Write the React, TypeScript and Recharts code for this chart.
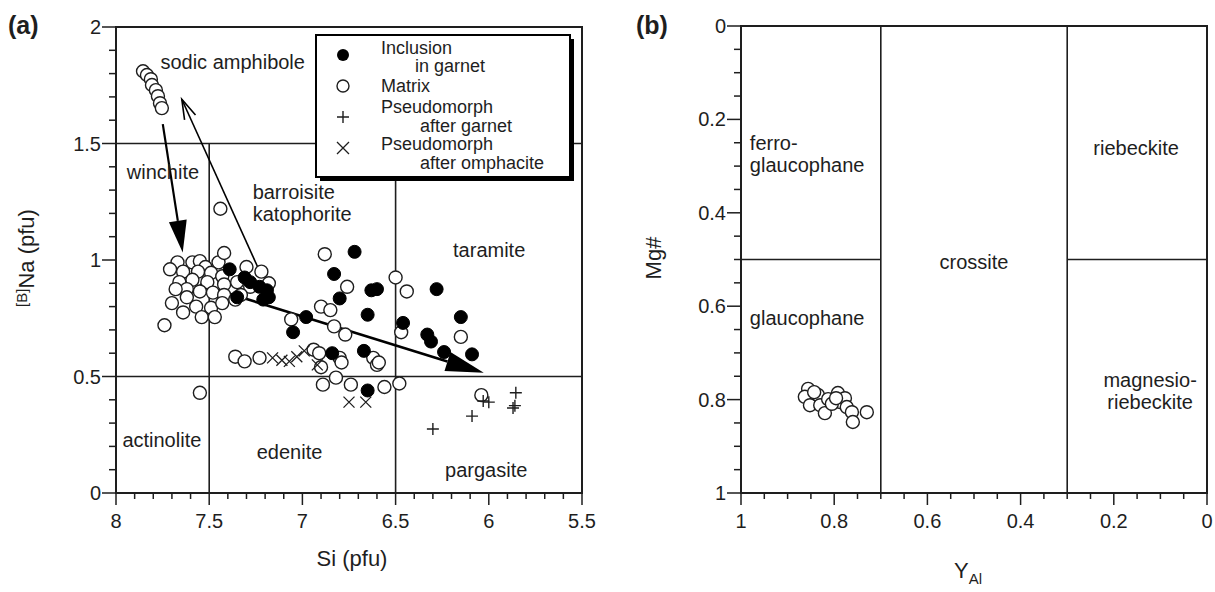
import React from "react";
import { ScatterChart, Scatter, XAxis, YAxis, ReferenceLine, ReferenceDot, ReferenceArea } from "recharts";

// (a) Si vs [B]Na
const inclusionA = [
  { x: 7.39, y: 0.96 }, { x: 7.31, y: 0.925 }, { x: 7.28, y: 0.905 }, { x: 7.23, y: 0.885 },
  { x: 7.19, y: 0.87 }, { x: 7.18, y: 0.84 }, { x: 7.35, y: 0.84 }, { x: 7.21, y: 0.83 },
  { x: 6.72, y: 1.035 }, { x: 6.83, y: 0.94 }, { x: 6.63, y: 0.87 }, { x: 6.6, y: 0.875 },
  { x: 6.8, y: 0.835 }, { x: 6.28, y: 0.875 }, { x: 6.98, y: 0.755 }, { x: 6.65, y: 0.765 },
  { x: 7.05, y: 0.69 }, { x: 6.46, y: 0.73 }, { x: 6.15, y: 0.755 }, { x: 6.33, y: 0.68 },
  { x: 6.31, y: 0.65 }, { x: 6.24, y: 0.605 }, { x: 6.09, y: 0.595 }, { x: 6.84, y: 0.6 },
  { x: 6.67, y: 0.61 }, { x: 6.65, y: 0.44 },
];
const matrixA = [
  { x: 7.855, y: 1.81 }, { x: 7.834, y: 1.794 }, { x: 7.813, y: 1.776 }, { x: 7.807, y: 1.751 },
  { x: 7.786, y: 1.729 }, { x: 7.775, y: 1.703 }, { x: 7.764, y: 1.673 }, { x: 7.754, y: 1.652 },
  { x: 7.67, y: 0.99 }, { x: 7.59, y: 0.99 }, { x: 7.55, y: 0.995 }, { x: 7.52, y: 0.97 },
  { x: 7.45, y: 0.99 }, { x: 7.42, y: 1.03 }, { x: 7.64, y: 0.95 }, { x: 7.56, y: 0.95 },
  { x: 7.49, y: 0.945 }, { x: 7.43, y: 0.93 }, { x: 7.66, y: 0.905 }, { x: 7.59, y: 0.915 },
  { x: 7.51, y: 0.905 }, { x: 7.42, y: 0.895 }, { x: 7.35, y: 0.905 }, { x: 7.62, y: 0.875 },
  { x: 7.55, y: 0.865 }, { x: 7.48, y: 0.86 }, { x: 7.42, y: 0.85 }, { x: 7.7, y: 0.815 },
  { x: 7.62, y: 0.84 }, { x: 7.57, y: 0.8 }, { x: 7.49, y: 0.795 }, { x: 7.43, y: 0.815 },
  { x: 7.64, y: 0.775 }, { x: 7.54, y: 0.755 }, { x: 7.47, y: 0.755 }, { x: 7.36, y: 0.83 },
  { x: 7.74, y: 0.72 }, { x: 7.3, y: 0.97 }, { x: 7.28, y: 0.885 }, { x: 7.33, y: 0.85 },
  { x: 7.71, y: 0.96 }, { x: 7.68, y: 0.875 }, { x: 7.22, y: 0.95 }, { x: 7.18, y: 0.9 },
  { x: 7.44, y: 1.22 }, { x: 7.55, y: 0.43 },
  { x: 7.36, y: 0.585 }, { x: 7.31, y: 0.565 }, { x: 7.23, y: 0.58 },
  { x: 6.88, y: 1.025 }, { x: 6.76, y: 0.885 }, { x: 6.9, y: 0.8 }, { x: 6.85, y: 0.785 },
  { x: 7.06, y: 0.745 }, { x: 6.83, y: 0.715 }, { x: 6.77, y: 0.68 }, { x: 6.94, y: 0.615 },
  { x: 6.91, y: 0.6 }, { x: 6.8, y: 0.58 }, { x: 6.79, y: 0.56 }, { x: 6.62, y: 0.58 },
  { x: 6.6, y: 0.55 }, { x: 6.9, y: 0.54 }, { x: 6.89, y: 0.465 }, { x: 6.82, y: 0.495 },
  { x: 6.74, y: 0.465 }, { x: 6.56, y: 0.455 }, { x: 6.48, y: 0.47 }, { x: 6.5, y: 0.925 },
  { x: 6.44, y: 0.865 }, { x: 6.47, y: 0.69 }, { x: 6.15, y: 0.67 }, { x: 6.59, y: 0.56 },
  { x: 6.04, y: 0.42 },
];
const pseudoGarnetA = [
  { x: 6.3, y: 0.275 }, { x: 6.09, y: 0.33 }, { x: 6.03, y: 0.395 }, { x: 6.0, y: 0.39 },
  { x: 5.855, y: 0.43 }, { x: 5.87, y: 0.365 }, { x: 5.86, y: 0.375 },
];
const pseudoOmphA = [
  { x: 7.16, y: 0.58 }, { x: 7.11, y: 0.57 }, { x: 7.07, y: 0.565 }, { x: 7.03, y: 0.585 },
  { x: 6.99, y: 0.61 }, { x: 6.92, y: 0.55 }, { x: 6.75, y: 0.39 }, { x: 6.66, y: 0.39 },
];

// (b) Y_Al vs Mg#
const matrixB = [
  { x: 0.856, y: 0.777 }, { x: 0.863, y: 0.794 }, { x: 0.852, y: 0.812 }, { x: 0.835, y: 0.79 },
  { x: 0.83, y: 0.812 }, { x: 0.82, y: 0.829 }, { x: 0.813, y: 0.799 }, { x: 0.792, y: 0.786 },
  { x: 0.788, y: 0.805 }, { x: 0.777, y: 0.797 }, { x: 0.773, y: 0.816 }, { x: 0.762, y: 0.827 },
  { x: 0.76, y: 0.848 }, { x: 0.73, y: 0.827 }, { x: 0.843, y: 0.784 }, { x: 0.805, y: 0.809 },
  { x: 0.796, y: 0.797 },
];

const siTicks = [8, 7.5, 7, 6.5, 6, 5.5];
const naTicks = [0, 0.5, 1, 1.5, 2];
const yAlTicks = [1, 0.8, 0.6, 0.4, 0.2, 0];
const mgTicks = [0, 0.2, 0.4, 0.6, 0.8, 1];

const labelsA = [
  { x: 7.374, y: 1.85, lines: ["sodic amphibole"], anchor: "middle" },
  { x: 7.748, y: 1.376, lines: ["winchite"], anchor: "middle" },
  { x: 7.267, y: 1.29, lines: ["barroisite", "katophorite"], anchor: "start" },
  { x: 5.998, y: 1.045, lines: ["taramite"], anchor: "middle" },
  { x: 7.754, y: 0.228, lines: ["actinolite"], anchor: "middle" },
  { x: 7.069, y: 0.176, lines: ["edenite"], anchor: "middle" },
  { x: 6.014, y: 0.099, lines: ["pargasite"], anchor: "middle" },
];
const labelsB = [
  { x: 0.981, y: 0.251, lines: ["ferro-", "glaucophane"], anchor: "start" },
  { x: 0.981, y: 0.625, lines: ["glaucophane"], anchor: "start" },
  { x: 0.5, y: 0.505, lines: ["crossite"], anchor: "middle" },
  { x: 0.152, y: 0.261, lines: ["riebeckite"], anchor: "middle" },
  { x: 0.122, y: 0.758, lines: ["magnesio-", "riebeckite"], anchor: "middle" },
];

const FONT = "'Liberation Sans', Arial, sans-serif";
const INK = "#1e1e1e";

const withMinors = (lo: number, hi: number, step: number) => {
  const out: number[] = [];
  const n = Math.round((hi - lo) / step);
  for (let i = 0; i <= n; i++) out.push(Math.round((lo + i * step) * 1000) / 1000);
  return out;
};

const isMajor = (v: number, majors: number[]) => majors.some((m) => Math.abs(m - v) < 1e-6);

const bottomTick = (majors: number[]) => (props: any) => {
  const { x, y, payload } = props;
  const major = isMajor(payload.value, majors);
  return (
    <g>
      <line x1={x} x2={x} y1={y} y2={y + (major ? 12 : 6)} stroke={INK} strokeWidth={1.5} />
      {major && (
        <text x={x} y={y + 35} textAnchor="middle" fontSize={20} fontFamily={FONT} fill={INK}>
          {payload.value}
        </text>
      )}
    </g>
  );
};

const leftTick = (majors: number[]) => (props: any) => {
  const { x, y, payload } = props;
  const major = isMajor(payload.value, majors);
  return (
    <g>
      <line x1={x} x2={x - (major ? 14 : 7)} y1={y} y2={y} stroke={INK} strokeWidth={1.5} />
      {major && (
        <text x={x - 15} y={y} dy="0.35em" textAnchor="end" fontSize={20} fontFamily={FONT} fill={INK}>
          {payload.value}
        </text>
      )}
    </g>
  );
};

const openCircle = (p: any) => <circle cx={p.cx} cy={p.cy} r={6.5} fill="#fff" stroke={INK} strokeWidth={1.4} />;
const filledCircle = (p: any) => <circle cx={p.cx} cy={p.cy} r={6.5} fill="#000" stroke="#000" strokeWidth={1} />;
const plusMark = (p: any) => (
  <path d={`M${p.cx - 6},${p.cy}H${p.cx + 6}M${p.cx},${p.cy - 6}V${p.cy + 6}`} stroke={INK} strokeWidth={1.4} fill="none" />
);
const crossMark = (p: any) => (
  <path d={`M${p.cx - 5.5},${p.cy - 5.5}L${p.cx + 5.5},${p.cy + 5.5}M${p.cx - 5.5},${p.cy + 5.5}L${p.cx + 5.5},${p.cy - 5.5}`} stroke={INK} strokeWidth={1.3} fill="none" />
);

const arrow = (filled: boolean, headLen: number, half: number, sw: number) => (p: any) => {
  const { x1, y1, x2, y2 } = p;
  const dx = x2 - x1, dy = y2 - y1;
  const L = Math.hypot(dx, dy) || 1;
  const ux = dx / L, uy = dy / L;
  const bx = x2 - ux * headLen, by = y2 - uy * headLen;
  const px = -uy * half, py = ux * half;
  return filled ? (
    <g>
      <line x1={x1} y1={y1} x2={bx} y2={by} stroke="#000" strokeWidth={sw} />
      <polygon points={`${x2},${y2} ${bx + px},${by + py} ${bx - px},${by - py}`} fill="#000" />
    </g>
  ) : (
    <g>
      <line x1={x1} y1={y1} x2={x2} y2={y2} stroke="#000" strokeWidth={sw} />
      <polyline points={`${bx + px},${by + py} ${x2},${y2} ${bx - px},${by - py}`} fill="none" stroke="#000" strokeWidth={sw} />
    </g>
  );
};

const textShape = (lines: string[], anchor: string) => (p: any) => (
  <text x={p.cx} y={p.cy} textAnchor={anchor} fontSize={20} fontFamily={FONT} fill={INK}>
    {lines.map((l, i) => (
      <tspan key={i} x={p.cx} dy={i === 0 ? "0.35em" : 22}>
        {l}
      </tspan>
    ))}
  </text>
);

const lineStyle = { stroke: INK, strokeWidth: 1.6 };

function PanelA() {
  return (
    <ScatterChart width={600} height={592} margin={{ top: 27, right: 18, bottom: 59, left: 56 }}>
      <XAxis type="number" dataKey="x" domain={[5.5, 8]} reversed allowDataOverflow
        ticks={withMinors(5.5, 8, 0.1)} interval={0} tickSize={0} tickMargin={0}
        tick={bottomTick(siTicks)} tickLine={false} axisLine={{ stroke: INK, strokeWidth: 2 }} height={40} />
      <YAxis type="number" dataKey="y" domain={[0, 2]} allowDataOverflow
        ticks={withMinors(0, 2, 0.1)} interval={0} tickSize={0} tickMargin={0}
        tick={leftTick(naTicks)} tickLine={false} axisLine={{ stroke: INK, strokeWidth: 2 }} width={60} />
      <ReferenceArea x1={5.5} x2={8} y1={0} y2={2} fill="none" stroke={INK} strokeWidth={2} />
      <ReferenceLine segment={[{ x: 8, y: 1.5 }, { x: 5.5, y: 1.5 }]} {...lineStyle} />
      <ReferenceLine segment={[{ x: 8, y: 0.5 }, { x: 5.5, y: 0.5 }]} {...lineStyle} />
      <ReferenceLine segment={[{ x: 7.5, y: 1.5 }, { x: 7.5, y: 0 }]} {...lineStyle} />
      <ReferenceLine segment={[{ x: 6.5, y: 1.5 }, { x: 6.5, y: 0 }]} {...lineStyle} />
      {labelsA.map((l, i) => (
        <ReferenceDot key={i} x={l.x} y={l.y} r={0} shape={textShape(l.lines, l.anchor)} />
      ))}
      <Scatter data={matrixA} shape={openCircle} isAnimationActive={false} />
      <Scatter data={inclusionA} shape={filledCircle} isAnimationActive={false} />
      <Scatter data={pseudoGarnetA} shape={plusMark} isAnimationActive={false} />
      <Scatter data={pseudoOmphA} shape={crossMark} isAnimationActive={false} />
      <ReferenceLine segment={[{ x: 7.749, y: 1.583 }, { x: 7.642, y: 1.032 }]} shape={arrow(true, 32, 9, 2.2)} />
      <ReferenceLine segment={[{ x: 7.241, y: 0.972 }, { x: 7.647, y: 1.69 }]} shape={arrow(false, 20, 6, 1.6)} />
      <ReferenceLine segment={[{ x: 7.551, y: 0.895 }, { x: 6.027, y: 0.516 }]} shape={arrow(true, 38, 10, 2.6)} />
    </ScatterChart>
  );
}

function PanelB() {
  return (
    <ScatterChart width={595} height={592} margin={{ top: 26, right: 8, bottom: 59, left: 61 }}>
      <XAxis type="number" dataKey="x" domain={[0, 1]} reversed allowDataOverflow
        ticks={withMinors(0, 1, 0.05)} interval={0} tickSize={0} tickMargin={0}
        tick={bottomTick(yAlTicks)} tickLine={false} axisLine={{ stroke: INK, strokeWidth: 2 }} height={40} />
      <YAxis type="number" dataKey="y" domain={[0, 1]} reversed allowDataOverflow
        ticks={withMinors(0, 1, 0.05)} interval={0} tickSize={0} tickMargin={0}
        tick={leftTick(mgTicks)} tickLine={false} axisLine={{ stroke: INK, strokeWidth: 2 }} width={60} />
      <ReferenceArea x1={0} x2={1} y1={0} y2={1} fill="none" stroke={INK} strokeWidth={2} />
      <ReferenceLine segment={[{ x: 0.7, y: 0 }, { x: 0.7, y: 1 }]} {...lineStyle} />
      <ReferenceLine segment={[{ x: 0.3, y: 0 }, { x: 0.3, y: 1 }]} {...lineStyle} />
      <ReferenceLine segment={[{ x: 1, y: 0.5 }, { x: 0.7, y: 0.5 }]} {...lineStyle} />
      <ReferenceLine segment={[{ x: 0.3, y: 0.5 }, { x: 0, y: 0.5 }]} {...lineStyle} />
      {labelsB.map((l, i) => (
        <ReferenceDot key={i} x={l.x} y={l.y} r={0} shape={textShape(l.lines, l.anchor)} />
      ))}
      <Scatter data={matrixB} shape={openCircle} isAnimationActive={false} />
    </ScatterChart>
  );
}

const legendRows = [
  { kind: "filled", lines: ["Inclusion", "in garnet"], indent: 34 },
  { kind: "open", lines: ["Matrix"], indent: 0 },
  { kind: "plus", lines: ["Pseudomorph", "after garnet"], indent: 39 },
  { kind: "cross", lines: ["Pseudomorph", "after omphacite"], indent: 39 },
];

function Overlay() {
  const markerY = [55, 86, 117, 148];
  const textY = [54, 72, 92, 113, 132, 150, 169];
  let t = 0;
  return (
    <svg width={1215} height={592} style={{ position: "absolute", left: 0, top: 0, pointerEvents: "none" }}>
      <g fontFamily={FONT} fill={INK}>
        <text x={8} y={34} fontSize={25} fontWeight="bold">(a)</text>
        <text x={636} y={34} fontSize={25} fontWeight="bold">(b)</text>
        <text x={352} y={566} fontSize={22} textAnchor="middle">Si (pfu)</text>
        <text transform="translate(34,258) rotate(-90)" textAnchor="middle" fontSize={22}>
          <tspan fontSize={15} dy={-7}>[B]</tspan>
          <tspan dy={7}>Na (pfu)</tspan>
        </text>
        <text transform="translate(661,258) rotate(-90)" textAnchor="middle" fontSize={22}>Mg#</text>
        <text x={968} y={578} textAnchor="middle" fontSize={22}>
          Y<tspan fontSize={15} dy={6}>Al</tspan>
        </text>
        {/* legend box */}
        <rect x={320} y={39} width={254} height={142} fill="#000" />
        <rect x={316} y={35} width={254} height={142} fill="#fff" stroke="#000" strokeWidth={2} />
        {legendRows.map((r, i) => {
          const cx = 343, cy = markerY[i];
          let m;
          if (r.kind === "filled") m = <circle cx={cx} cy={cy} r={6} fill="#000" />;
          else if (r.kind === "open") m = <circle cx={cx} cy={cy} r={6} fill="#fff" stroke={INK} strokeWidth={1.4} />;
          else if (r.kind === "plus") m = <path d={`M${cx - 6},${cy}H${cx + 6}M${cx},${cy - 6}V${cy + 6}`} stroke={INK} strokeWidth={1.4} />;
          else m = <path d={`M${cx - 6},${cy - 6}L${cx + 6},${cy + 6}M${cx - 6},${cy + 6}L${cx + 6},${cy - 6}`} stroke={INK} strokeWidth={1.3} />;
          return (
            <g key={i}>
              {m}
              {r.lines.map((l, j) => (
                <text key={j} x={381 + (j > 0 ? r.indent : 0)} y={textY[t++]} fontSize={18}>{l}</text>
              ))}
            </g>
          );
        })}
      </g>
    </svg>
  );
}

export default function App() {
  return (
    <div style={{ position: "absolute", left: 0, top: 0, width: 1215, height: 592, background: "#fff" }}>
      <div style={{ position: "absolute", left: 0, top: 0 }}>
        <PanelA />
      </div>
      <div style={{ position: "absolute", left: 620, top: 0 }}>
        <PanelB />
      </div>
      <Overlay />
    </div>
  );
}
